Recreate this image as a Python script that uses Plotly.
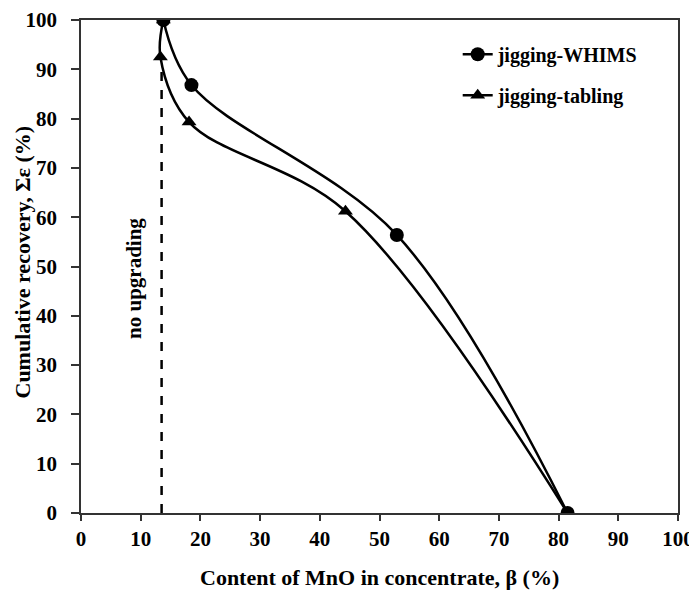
import plotly.graph_objects as go

# Data
whims_x = [13.8, 18.5, 52.9, 81.5]
whims_y = [100, 86.8, 56.4, 0]
tabling_x = [13.8, 13.3, 18.1, 44.3, 81.5]
tabling_y = [100, 92.5, 79.3, 61.2, 0]
noup_x = [13.5, 13.5]
noup_y = [0, 90]
x_ticks = [0, 10, 20, 30, 40, 50, 60, 70, 80, 90, 100]
y_ticks = [0, 10, 20, 30, 40, 50, 60, 70, 80, 90, 100]

FONT = "Liberation Serif"

fig = go.Figure()
fig.add_trace(go.Scatter(
    x=noup_x, y=noup_y, mode="lines", showlegend=False,
    line=dict(color="black", width=2.5, dash="dash"), hoverinfo="skip"))
fig.add_trace(go.Scatter(
    x=tabling_x, y=tabling_y, mode="lines+markers", name="<b>jigging-tabling</b>",
    legendrank=2, legendgroup="b",
    line=dict(color="black", width=2.5, shape="spline", smoothing=1.0),
    marker=dict(symbol="triangle-up", size=13, color="black")))
fig.add_trace(go.Scatter(
    x=whims_x, y=whims_y, mode="lines+markers", name="<b>jigging-WHIMS</b>",
    legendrank=1, legendgroup="a",
    line=dict(color="black", width=2.5, shape="spline", smoothing=1.0),
    marker=dict(symbol="circle", size=14, color="black")))

fig.add_annotation(x=8.9, y=47.5, text="<b>no upgrading</b>", textangle=-90,
                   showarrow=False, font=dict(family=FONT, size=21, color="black"))

# axis titles as annotations positioned relative to the plot area
fig.add_annotation(xref="paper", yref="paper", x=0.5, y=0, yanchor="middle",
                   yshift=-64, showarrow=False,
                   text="<b>Content of MnO in concentrate, β (%)</b>",
                   font=dict(family=FONT, size=22, color="black"))
fig.add_annotation(xref="paper", yref="paper", x=0, y=0.5, xanchor="center",
                   xshift=-59, yshift=4, textangle=-90, showarrow=False,
                   text="<b>Cumulative recovery, Σε (%)</b>",
                   font=dict(family=FONT, size=22, color="black"))

axis_common = dict(showgrid=False, zeroline=False, showline=True, linecolor="#333",
                   linewidth=1.5, mirror=True, ticks="outside", tickcolor="#333",
                   tickwidth=1.5, range=[0, 100], automargin=False,
                   tickfont=dict(family=FONT, size=21, color="black", weight="bold"))
fig.update_xaxes(**axis_common, tickvals=x_ticks, ticklen=6)
fig.update_yaxes(**axis_common, tickvals=y_ticks, ticklen=8, ticklabelstandoff=10)

# page body adds an 8px margin, so the figure is sized to fit the window
fig.update_layout(
    width=689, height=584,
    margin=dict(l=73, r=19, t=12, b=79),
    plot_bgcolor="white", paper_bgcolor="white",
    font=dict(family=FONT, color="black"),
    legend=dict(x=0.631, y=0.97, xanchor="left", yanchor="top",
                traceorder="grouped", tracegroupgap=12,
                bgcolor="rgba(0,0,0,0)",
                font=dict(family=FONT, size=20, color="black")),
)

fig.write_html("out.html")
